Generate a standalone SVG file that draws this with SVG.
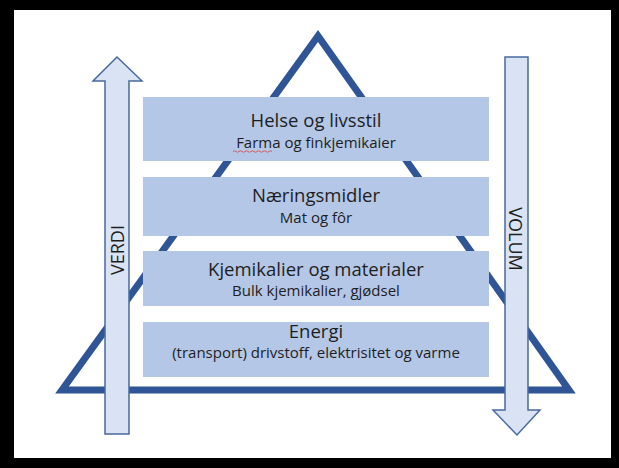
<svg xmlns="http://www.w3.org/2000/svg" width="619" height="468" viewBox="0 0 619 468">
<style>
.box{fill:#b4c7e7}
.t{font-family:"Open Sans","Liberation Sans",sans-serif;fill:#1e1e1e;text-anchor:middle}
.h{font-size:18.5px}
.s{font-size:15px}
.arr{fill:#dae3f3;stroke:#4a6a9e;stroke-width:1.5}
.lbl{font-family:"Open Sans","Liberation Sans",sans-serif;font-size:18px;fill:#1e1e1e;text-anchor:middle}
</style>
<rect x="0" y="0" width="619" height="468" fill="#000"/>
<rect x="14" y="10" width="597" height="448" fill="#fff"/>
<g id="pyramid">
<polygon points="318,36 62,390 569,390" fill="none" stroke="#2f5597" stroke-width="7" stroke-linejoin="miter"/>
</g>
<g id="helse">
<rect class="box" x="143" y="97" width="346" height="64"/>
<text class="t h" x="316" y="127">Helse og livsstil</text>
<text class="t s" x="316" y="148">Farma og finkjemikaier</text>
<path d="M233,151.5 q1.5,-1.5 3,0 t3,0 t3,0 t3,0 t3,0 t3,0 t3,0 t3,0 t3,0 t3,0 t3,0 t3,0 t3,0" fill="none" stroke="#e0403a" stroke-width="0.8"/>
</g>
<g id="naering">
<rect class="box" x="143" y="177" width="346" height="59"/>
<text class="t h" x="316" y="202">Næringsmidler</text>
<text class="t s" x="316" y="223">Mat og fôr</text>
</g>
<g id="kjemikalier">
<rect class="box" x="143" y="251" width="346" height="55"/>
<text class="t h" x="316" y="276">Kjemikalier og materialer</text>
<text class="t s" x="316" y="296">Bulk kjemikalier, gjødsel</text>
</g>
<g id="energi">
<rect class="box" x="143" y="322" width="346" height="55"/>
<text class="t h" x="316" y="338">Energi</text>
<text class="t s" x="316" y="358">(transport) drivstoff, elektrisitet og varme</text>
</g>
<g id="connectors">
<g id="verdi">
<polygon class="arr" points="117,57 142,81 129,81 129,434 105,434 105,81 93,81"/>
<text class="lbl" transform="translate(123.5,250) rotate(-90)">VERDI</text>
</g>
<g id="volum">
<polygon class="arr" points="505,57 528,57 528,410 540,410 517,435 493,410 505,410"/>
<text class="lbl" transform="translate(509,239) rotate(90)">VOLUM</text>
</g>
</g>
</svg>
